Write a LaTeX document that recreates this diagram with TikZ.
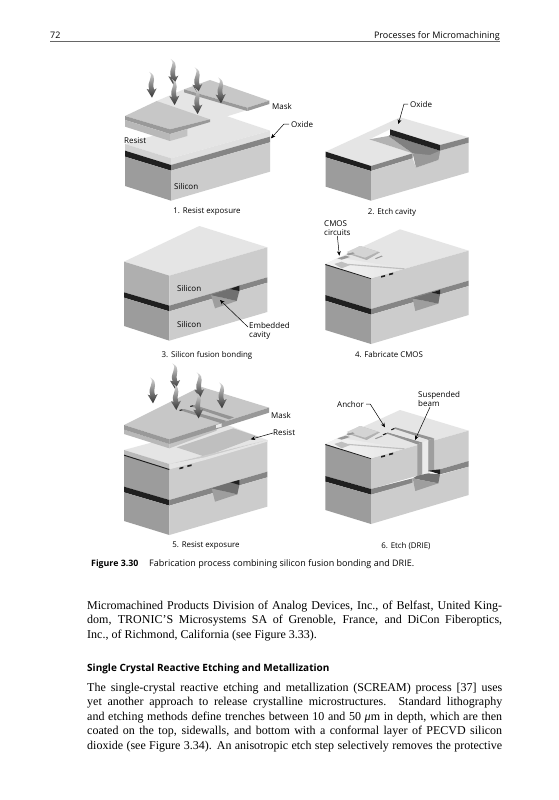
\documentclass[tikz,border=0pt]{standalone}
\usepackage{fontspec}
\setmainfont{Liberation Serif}
\setsansfont{Open Sans}
\usetikzlibrary{arrows.meta, calc}

\definecolor{topface}{gray}{0.90}
\definecolor{leftface}{gray}{0.61}
\definecolor{rightface}{gray}{0.80}
\definecolor{oxideband}{gray}{0.52}
\definecolor{blackband}{gray}{0.12}
\definecolor{maskband}{gray}{0.60}
\definecolor{masktop}{gray}{0.78}

\tikzset{
    lab/.style={font=\sffamily\fontsize{8}{9.6}\selectfont, inner sep=0pt, anchor=west, align=left},
    captext/.style={font=\sffamily\fontsize{7.9}{10}\selectfont, inner sep=0pt},
    headtext/.style={font=\sffamily\fontsize{9}{11}\selectfont, inner sep=0pt, anchor=base},
    figtext/.style={font=\sffamily\fontsize{9}{11}\selectfont, inner sep=0pt, anchor=base west},
    bodyline/.style={font=\fontsize{12}{14}\selectfont, inner sep=0pt, anchor=base west},
    lead/.style={line width=0.5pt, -{Stealth[length=4.5pt,width=3.8pt]}},
}

% tip of the arrow at (#1,#2), in units of a third of a pixel
\newcommand{\wavyarrow}[2]{
    \shade[top color=black!15, bottom color=black!80, shift={(#1,#2)}]
        (-8,-78) .. controls (9,-62) and (-17,-50) .. (-7,-24) -- (-15,-26) -- (1,0) -- (15,-28) -- (7,-24)
        .. controls (-1,-50) and (20,-62) .. (-8,-78) -- cycle;
}

% the small parts on the wafer of panels 4 and 6
\newcommand{\cmosparts}{
    \shade[left color=black!5, right color=topface] (46,147) -- (85,128) -- (285,160) -- (183,190) -- cycle;
    \fill[black!30] (110,115) -- (150,93) -- (210,112) -- (170,135) -- cycle;
    \fill[black!17] (110,111) -- (150,93) -- (204,110) -- (165,128) -- cycle;
    \fill[black!25] (73,147) -- (95,140) -- (120,150) -- (95,160) -- cycle;
    \fill[black!40] (82,130) -- (108,122) -- (120,126) -- (95,134) -- cycle;
    \fill[black!40] (110,118) -- (128,112) -- (134,115) -- (116,121) -- cycle;
    \fill[black!40] (195,130) -- (215,122) -- (218,124) -- (198,132) -- cycle;
    \fill[black!25] (95,145) -- (285,160) -- (280,163) -- (90,148) -- cycle;
    \fill[blackband] (46,147) -- (183,190) -- (183,192) -- (46,150) -- cycle;
    \fill[blackband] (213,183) -- (225,180) -- (225,185) -- (213,188) -- cycle;
    \fill[blackband] (237,176) -- (249,173) -- (249,178) -- (237,181) -- cycle;
}

\begin{document}
\begin{tikzpicture}[x=1pt, y=-1pt]
    \useasboundingbox (0,0) rectangle (558,800);
    \fill[white] (0,0) rectangle (558,800);

    % page head
    \node[headtext, anchor=base west] (pagenum) at (50,38) {72};
    \node[headtext, anchor=base east] (pagehead) at (500,38) {Processes for Micromachining};
    \draw[black!60, line width=0.7pt] (50,41.5) -- (500,41.5);

    % panel 1
    \begin{scope}[shift={(110,60)}, scale=1/3]
        \fill[topface] (45,252) -- (183,295) -- (480,212) -- (340,165) -- cycle;
        \fill[black!18] (45,252) -- (183,295) -- (183,315) -- (45,272) -- cycle;
        \fill[black!12] (183,295) -- (480,212) -- (480,230) -- (183,315) -- cycle;
        \fill[blackband] (45,272) -- (183,315) -- (183,332) -- (45,290) -- cycle;
        \fill[oxideband] (183,315) -- (480,230) -- (480,247) -- (183,332) -- cycle;
        \fill[leftface] (45,290) -- (183,332) -- (183,422) -- (45,378) -- cycle;
        \fill[rightface] (183,332) -- (480,247) -- (480,335) -- (183,422) -- cycle;
        % opening between the two mask parts
        \fill[topface] (140,123) -- (222,88) -- (412,150) -- (300,185) -- cycle;
        % mask
        \fill[masktop] (222,88) -- (300,60) -- (478,122) -- (412,143) -- cycle;
        \fill[maskband] (222,88) -- (412,143) -- (412,153) -- (222,97) -- cycle;
        \fill[maskband] (412,143) -- (478,122) -- (478,132) -- (412,153) -- cycle;
        \fill[masktop] (45,168) -- (140,123) -- (300,178) -- (180,208) -- cycle;
        \fill[maskband] (45,168) -- (180,208) -- (180,222) -- (45,180) -- cycle;
        \fill[maskband] (180,208) -- (300,178) -- (300,186) -- (180,222) -- cycle;
        \fill[black!28] (45,180) -- (180,222) -- (180,243) -- (45,200) -- cycle;
        \fill[black!24] (180,222) -- (232,207) -- (232,228) -- (180,243) -- cycle;
        \foreach \x/\y in {125/113, 190/75, 193/135, 262/100, 262/162, 332/130} {
            \wavyarrow{\x}{\y}
        }
        \coordinate (oxtipa) at (483,235);
    \end{scope}
    \node[lab] (maska) at (272,106) {Mask};
    \node[lab] (oxidea) at (291,124) {Oxide};
    \node[lab] (resista) at (124,141) {Resist};
    \node[lab] (silicona) at (174,186) {Silicon};
    \node[captext] (capa) at (207,212) {1. Resist exposure};
    \draw[lead] (oxidea.west) ++(-2,0) -- ++(-5,0) -- (oxtipa);

    % panel 2
    \begin{scope}[shift={(310,60)}, scale=1/3]
        \fill[topface] (47,275) -- (270,172) -- (476,232) -- (390,255) -- (240,208) -- (178,238) -- (308,280) -- (183,318) -- cycle;
        \fill[blackband] (47,275) -- (183,318) -- (183,333) -- (47,292) -- cycle;
        \fill[oxideband] (183,318) -- (308,280) -- (308,295) -- (183,333) -- cycle;
        \fill[leftface] (47,292) -- (183,333) -- (183,422) -- (47,380) -- cycle;
        \fill[rightface] (183,333) -- (308,295) -- (318,323) -- (385,300) -- (390,272) -- (476,248) -- (476,337) -- (183,422) -- cycle;
        \fill[black!30] (178,238) -- (235,228) -- (308,280) -- cycle;
        \fill[black!50] (235,228) -- (240,225) -- (390,272) -- (385,298) -- (308,280) -- cycle;
        \fill[black!40] (308,280) -- (318,323) -- (385,300) -- (390,272) -- (360,285) -- cycle;
        \fill[blackband] (240,208) -- (390,255) -- (390,272) -- (240,225) -- cycle;
        \fill[oxideband] (390,255) -- (476,232) -- (476,248) -- (390,272) -- cycle;
        \coordinate (oxtipb) at (265,192);
    \end{scope}
    \node[lab] (oxideb) at (410,104) {Oxide};
    \node[captext] (capb) at (392,212) {2. Etch cavity};
    \draw[lead] (oxideb.west) ++(-2,0) -- ++(-4,0) -- (oxtipb);

    % panel 3
    \begin{scope}[shift={(110,215)}, scale=1/3]
        \fill[topface] (42,140) -- (178,182) -- (472,97) -- (268,33) -- cycle;
        \fill[leftface!80!white] (42,140) -- (178,182) -- (178,272) -- (42,232) -- cycle;
        \fill[rightface] (178,182) -- (472,97) -- (472,187) -- (178,272) -- cycle;
        \fill[blackband] (42,232) -- (178,272) -- (178,289) -- (42,248) -- cycle;
        \fill[oxideband] (178,272) -- (472,187) -- (472,203) -- (178,289) -- cycle;
        \fill[leftface] (42,248) -- (178,289) -- (178,377) -- (42,333) -- cycle;
        \fill[rightface] (178,289) -- (472,203) -- (472,291) -- (178,377) -- cycle;
        \fill[black!38] (303,240) -- (380,258) -- (315,280) -- cycle;
        \fill[black!56] (303,240) -- (360,222) -- (388,228) -- (380,258) -- cycle;
        \fill[blackband] (360,222) -- (388,212) -- (388,228) -- cycle;
        \coordinate (cavtip) at (330,255);
    \end{scope}
    \node[lab] (siliconb) at (177,288) {Silicon};
    \node[lab] (siliconc) at (177,324) {Silicon};
    \node[lab] (embed) at (249,331) {Embedded\\cavity};
    \node[captext] (capc) at (207,355) {3. Silicon fusion bonding};
    \draw[lead] ([xshift=-1pt,yshift=4pt]embed.west) -- (cavtip);

    % panel 4
    \begin{scope}[shift={(310,215)}, scale=1/3]
        \fill[topface] (46,147) -- (183,190) -- (476,107) -- (270,43) -- cycle;
        \fill[leftface] (46,147) -- (183,190) -- (183,282) -- (46,240) -- cycle;
        \fill[rightface] (183,190) -- (476,107) -- (476,197) -- (183,282) -- cycle;
        \fill[blackband] (46,240) -- (183,282) -- (183,299) -- (46,257) -- cycle;
        \fill[oxideband] (183,282) -- (476,197) -- (476,213) -- (183,299) -- cycle;
        \fill[leftface] (46,257) -- (183,299) -- (183,387) -- (46,345) -- cycle;
        \fill[rightface] (183,299) -- (476,213) -- (476,300) -- (183,387) -- cycle;
        \cmosparts
        \fill[black!38] (308,250) -- (385,266) -- (316,288) -- cycle;
        \fill[black!56] (308,250) -- (365,233) -- (390,238) -- (385,266) -- cycle;
        \fill[blackband] (365,233) -- (390,225) -- (390,238) -- cycle;
        \coordinate (cmostip) at (88,122);
    \end{scope}
    \node[lab] (cmos) at (324,228) {CMOS\\circuits};
    \node[captext] (capd) at (389,355) {4. Fabricate CMOS};
    \draw[lead] (cmos.south) -- (cmostip);

    % panel 5
    \begin{scope}[shift={(110,360)}, scale=1/3]
        \fill[topface] (42,270) -- (178,312) -- (472,240) -- (340,190) -- cycle;
        \fill[black!25] (200,262) -- (370,205) -- (445,230) -- (285,290) -- cycle;
        \fill[leftface!70!white] (42,270) -- (178,312) -- (178,420) -- (42,380) -- cycle;
        \fill[leftface] (42,285) -- (178,328) -- (178,420) -- (42,380) -- cycle;
        \fill[rightface] (178,312) -- (472,240) -- (472,335) -- (178,420) -- cycle;
        \fill[topface] (178,312) -- (285,292) -- (472,240) -- (472,245) -- (285,300) -- (178,328) -- cycle;
        \fill[blackband] (42,284) -- (178,327) -- (178,330) -- (42,287) -- cycle;
        \fill[blackband] (208,323) -- (220,320) -- (220,325) -- (208,328) -- cycle;
        \fill[blackband] (232,316) -- (245,313) -- (245,318) -- (232,321) -- cycle;
        \fill[blackband] (42,380) -- (178,420) -- (178,437) -- (42,397) -- cycle;
        \fill[oxideband] (178,420) -- (472,335) -- (472,352) -- (178,437) -- cycle;
        \fill[leftface] (42,397) -- (178,437) -- (178,525) -- (42,483) -- cycle;
        \fill[rightface] (178,437) -- (472,352) -- (472,440) -- (178,525) -- cycle;
        \fill[black!38] (305,385) -- (382,403) -- (315,425) -- cycle;
        \fill[black!56] (305,385) -- (362,367) -- (388,375) -- (382,403) -- cycle;
        \fill[blackband] (362,367) -- (388,360) -- (388,375) -- cycle;
        % mask
        \fill[black!28] (42,209) -- (178,252) -- (178,265) -- (42,222) -- cycle;
        \fill[black!24] (178,252) -- (320,205) -- (320,212) -- (178,265) -- cycle;
        \fill[masktop] (42,195) -- (178,238) -- (477,143) -- (272,80) -- cycle;
        \fill[maskband] (42,195) -- (178,238) -- (178,252) -- (42,209) -- cycle;
        \fill[maskband] (178,238) -- (477,143) -- (477,158) -- (178,252) -- cycle;
        \fill[black!42] (208,150) -- (222,147) -- (350,183) -- (335,190) -- cycle;
        \fill[black!42] (240,138) -- (252,135) -- (372,172) -- (357,178) -- cycle;
        \fill[blackband] (208,150) -- (216,148) -- (218,150) -- (210,153) -- cycle;
        \fill[blackband] (240,138) -- (248,136) -- (250,138) -- (242,141) -- cycle;
        \fill[black!8] (318,195) -- (335,190) -- (335,201) -- (318,204) -- cycle;
        \foreach \x/\y in {128/130, 195/88, 198/150, 268/115, 265/175, 335/145} {
            \wavyarrow{\x}{\y}
        }
        \coordinate (restip) at (422,238);
    \end{scope}
    \node[lab] (maskb) at (271,415) {Mask};
    \node[lab] (resistb) at (273,433) {Resist};
    \node[captext] (cape) at (206,546) {5. Resist exposure};
    \draw[lead] (resistb.west) -- (restip);

    % panel 6
    \begin{scope}[shift={(310,375)}, scale=1/3]
        \fill[topface] (46,207) -- (183,250) -- (476,167) -- (270,105) -- cycle;
        \fill[leftface] (46,207) -- (183,250) -- (183,342) -- (46,303) -- cycle;
        \fill[rightface] (183,250) -- (476,167) -- (476,258) -- (183,342) -- cycle;
        \fill[blackband] (46,303) -- (183,342) -- (183,359) -- (46,320) -- cycle;
        \fill[oxideband] (183,342) -- (308,310) -- (308,325) -- (183,359) -- cycle;
        \fill[oxideband] (390,283) -- (476,258) -- (476,275) -- (390,298) -- cycle;
        \fill[leftface] (46,320) -- (183,359) -- (183,447) -- (46,405) -- cycle;
        \fill[rightface] (183,359) -- (476,275) -- (476,360) -- (183,447) -- cycle;
        \begin{scope}[yshift=-60]
            \cmosparts
        \end{scope}
        % beam
        \fill[black!42] (228,175) -- (234,172) -- (337,202) -- (322,208) -- cycle;
        \fill[black!42] (250,160) -- (256,157) -- (372,190) -- (355,195) -- cycle;
        \fill[topface] (234,172) -- (250,164) -- (355,195) -- (337,202) -- cycle;
        \fill[blackband] (218,178) -- (228,174) -- (230,177) -- (220,181) -- cycle;
        \fill[blackband] (243,163) -- (252,159) -- (254,162) -- (245,166) -- cycle;
        \fill[black!38] (322,208) -- (337,202) -- (337,298) -- (322,302) -- cycle;
        \fill[black!8] (337,202) -- (355,195) -- (355,295) -- (337,298) -- cycle;
        \fill[black!38] (355,195) -- (372,190) -- (372,285) -- (355,290) -- cycle;
        % cavity
        \fill[black!55] (308,310) -- (322,302) -- (355,295) -- (390,298) -- (385,325) -- cycle;
        \fill[black!38] (308,310) -- (385,325) -- (316,348) -- cycle;
        \fill[blackband] (355,287) -- (372,285) -- (390,283) -- (390,298) -- cycle;
        \coordinate (anchtip) at (225,157);
        \coordinate (beamtip) at (315,195);
    \end{scope}
    \node[lab] (anchor) at (337,404) {Anchor};
    \node[lab] (beam) at (418,399) {Suspended\\beam};
    \node[captext] (capf) at (406,546) {6. Etch (DRIE)};
    \draw[lead] ([xshift=2pt]anchor.east) -- ++(4,0) -- (anchtip);
    \draw[lead] ([xshift=12pt]beam.south west) -- (beamtip);

    % caption of the figure
    \node[figtext, font=\sffamily\bfseries\fontsize{8.8}{11}\selectfont] (figlab) at (91,566) {Figure 3.30};
    \node[figtext] (figcap) at (149,566) {Fabrication process combining silicon fusion bonding and DRIE.};

    % text under the figure
    \node[bodyline] (linea) at (87,609) {\makebox[415pt][s]{Micromachined Products Division of Analog Devices, Inc., of Belfast, United King-}};
    \node[bodyline] (lineb) at (87,623) {\makebox[415pt][s]{dom, TRONIC’S Microsystems SA of Grenoble, France, and DiCon Fiberoptics,}};
    \node[bodyline] (linec) at (87,638) {Inc., of Richmond, California (see Figure 3.33).};
    \node[bodyline, font=\sffamily\bfseries\fontsize{10}{12}\selectfont] (head) at (87,671) {Single Crystal Reactive Etching and Metallization};
    \node[bodyline] (lined) at (87,691) {\makebox[415pt][s]{The single-crystal reactive etching and metallization (SCREAM) process [37] uses}};
    \node[bodyline] (linee) at (87,705) {\makebox[415pt][s]{yet another approach to release crystalline microstructures. Standard lithography}};
    \node[bodyline] (linef) at (87,720) {\makebox[415pt][s]{and etching methods define trenches between 10 and 50 {\itshape μ}m in depth, which are then}};
    \node[bodyline] (lineg) at (87,734) {\makebox[415pt][s]{coated on the top, sidewalls, and bottom with a conformal layer of PECVD silicon}};
    \node[bodyline] (lineh) at (87,749) {\makebox[415pt][s]{dioxide (see Figure 3.34). An anisotropic etch step selectively removes the protective}};
\end{tikzpicture}
\end{document}
